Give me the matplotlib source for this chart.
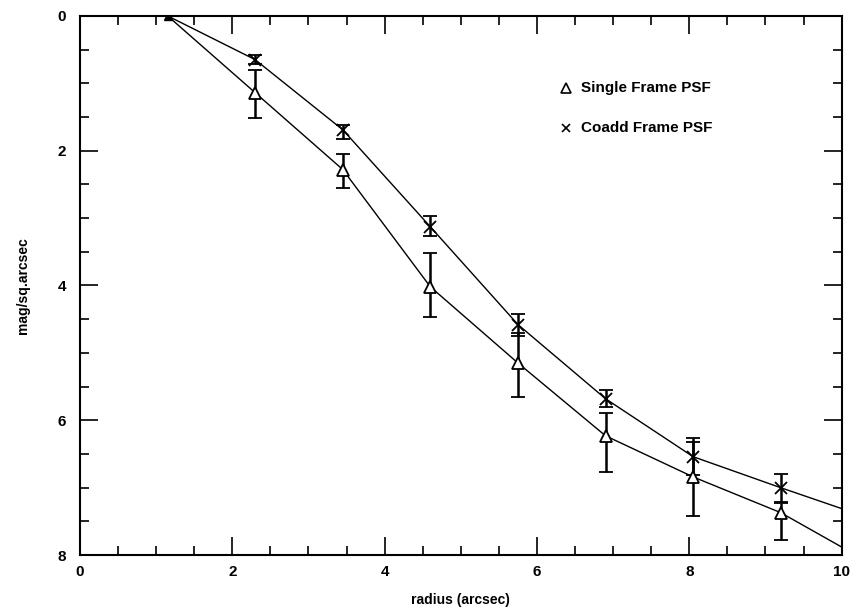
import matplotlib.pyplot as plt
import numpy as np

plt.rcParams['font.family'] = ['Liberation Sans', 'DejaVu Sans']
plt.rcParams['font.weight'] = 'bold'

# radius in arcsec (multiples of 1.15)
radius = [1.15, 2.3, 3.45, 4.6, 5.75, 6.9, 8.05, 9.2]

# Single Frame PSF
single = [0.0, 1.14, 2.28, 4.02, 5.15, 6.23, 6.84, 7.37]
single_lo = [0.0, 0.80, 2.05, 3.52, 4.70, 5.89, 6.32, 7.23]
single_hi = [0.0, 1.51, 2.55, 4.47, 5.65, 6.77, 7.42, 7.77]

# Coadd Frame PSF
coadd = [0.0, 0.65, 1.69, 3.13, 4.58, 5.68, 6.54, 7.00]
coadd_lo = [0.0, 0.58, 1.62, 2.97, 4.42, 5.55, 6.26, 6.80]
coadd_hi = [0.0, 0.71, 1.82, 3.26, 4.75, 5.80, 6.81, 7.21]

# fitted curves (run on to the right edge)
curve_x = radius + [10.0]
single_curve = single + [7.88]
coadd_curve = coadd + [7.31]

fig = plt.figure(figsize=(8.51, 6.10), dpi=100)
ax = fig.add_axes([0.094, 0.090, 0.895, 0.884])

ax.plot(curve_x, single_curve, color='black', lw=1.0)
ax.plot(curve_x, coadd_curve, color='black', lw=1.0)

s = np.array(single)
c = np.array(coadd)
s_err = [s - np.array(single_lo), np.array(single_hi) - s]
c_err = [c - np.array(coadd_lo), np.array(coadd_hi) - c]

ax.errorbar(radius[1:], single[1:], yerr=[e[1:] for e in s_err], fmt='^', mfc='white',
            mec='black', ms=8, mew=1.3, ecolor='black', elinewidth=1.8,
            capsize=5, capthick=1.8)
ax.errorbar(radius[1:], coadd[1:], yerr=[e[1:] for e in c_err], fmt='x',
            color='black', ms=8, mew=1.3, ecolor='black', elinewidth=1.8,
            capsize=5, capthick=1.8)
ax.plot(radius[0], single[0], '^', mfc='black', mec='black', ms=6)

ax.set_xlim(0, 10)
ax.set_ylim(8, 0)
ax.set_xticks(np.arange(0, 11, 2))
ax.set_yticks(np.arange(0, 9, 2))
ax.set_xticks(np.arange(0, 10.1, 0.5), minor=True)
ax.set_yticks(np.arange(0, 8.1, 0.5), minor=True)
ax.tick_params(which='both', direction='in', top=True, right=True, width=1.2,
               labelsize=11)
ax.tick_params(which='major', length=13, pad=7)
ax.tick_params(axis='y', which='major', pad=10)
ax.tick_params(which='minor', length=6.5)
for sp in ax.spines.values():
    sp.set_linewidth(1.5)

# legend drawn as text the way the original does
ax.plot(6.38, 1.07, '^', mfc='white', mec='black', ms=7, mew=1.2)
ax.text(6.58, 1.07, 'Single Frame PSF', fontsize=11, fontweight='bold', va='center')
ax.plot(6.38, 1.66, 'x', color='black', ms=6, mew=1.2)
ax.text(6.58, 1.66, 'Coadd Frame PSF', fontsize=11, fontweight='bold', va='center')

ax.set_xlabel('radius (arcsec)', fontsize=10, fontweight='bold', labelpad=10)
ax.set_ylabel('mag/sq.arcsec', fontsize=10, fontweight='bold', labelpad=20)

fig.savefig('out.png', dpi=100)
